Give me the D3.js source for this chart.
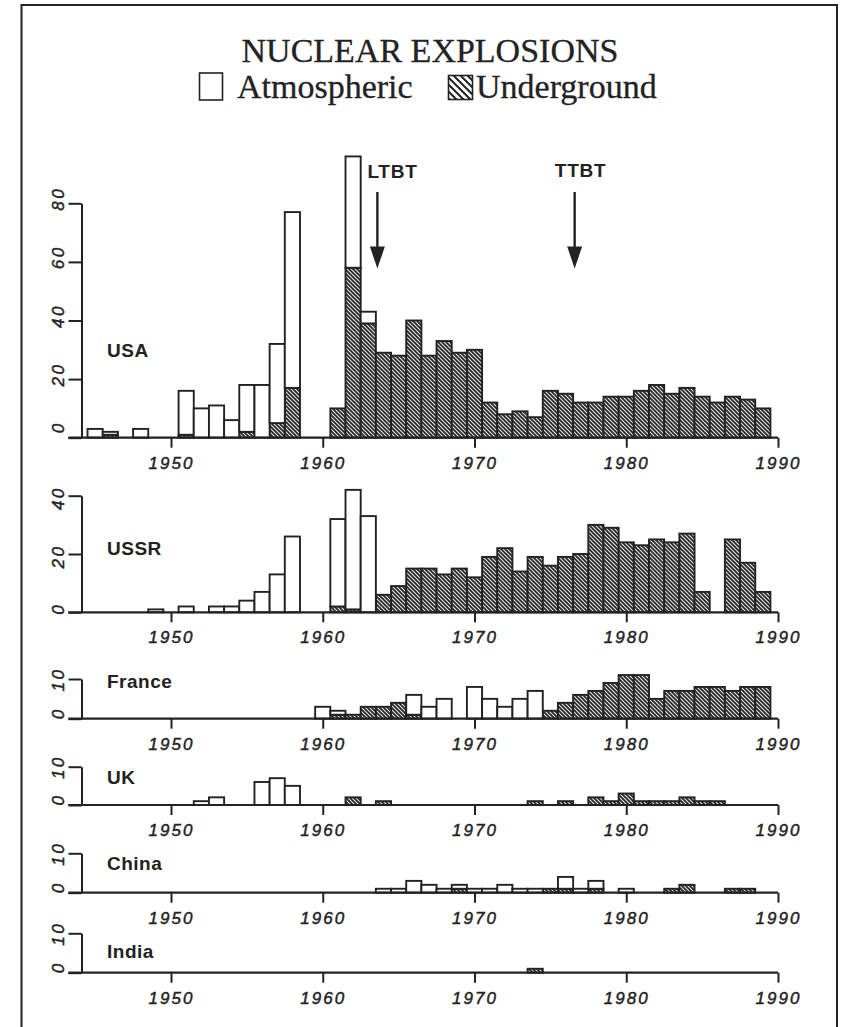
<!DOCTYPE html>
<html><head><meta charset="utf-8">
<script src="https://cdn.jsdelivr.net/npm/d3@7"></script>
<style>body{margin:0;background:#fff}</style>
</head><body>
<svg id="c" width="845" height="1027"></svg>
<script>
// ---- DATA ----
const years = [1945,1946,1947,1948,1949, 1950,1951,1952,1953,1954, 1955,1956,1957,1958,1959,
               1960,1961,1962,1963,1964, 1965,1966,1967,1968,1969, 1970,1971,1972,1973,1974,
               1975,1976,1977,1978,1979, 1980,1981,1982,1983,1984, 1985,1986,1987,1988,1989];
const xTickYears = [1950, 1960, 1970, 1980, 1990];

const usaAtm = [3,1,0,3,0, 0,15,10,11,6, 16,18,27,60,0, 0,0,38,4,0, 0,0,0,0,0, 0,0,0,0,0, 0,0,0,0,0, 0,0,0,0,0, 0,0,0,0,0];
const usaUnd = [0,1,0,0,0, 0,1,0,0,0, 2,0,5,17,0, 0,10,58,39,29, 28,40,28,33,29, 30,12,8,9,7, 16,15,12,12,14, 14,16,18,15,17, 14,12,14,13,10];
const ussrAtm = [0,0,0,0,1, 0,2,0,2,2, 4,7,13,26,0, 0,30,41,33,0, 0,0,0,0,0, 0,0,0,0,0, 0,0,0,0,0, 0,0,0,0,0, 0,0,0,0,0];
const ussrUnd = [0,0,0,0,0, 0,0,0,0,0, 0,0,0,0,0, 0,2,1,0,6, 9,15,15,13,15, 12,19,22,14,19, 16,19,20,30,29, 24,23,25,24,27, 7,0,25,17,7];
const franceAtm = [0,0,0,0,0, 0,0,0,0,0, 0,0,0,0,0, 3,1,0,0,0, 0,5,3,5,0, 8,5,3,5,7, 0,0,0,0,0, 0,0,0,0,0, 0,0,0,0,0];
const franceUnd = [0,0,0,0,0, 0,0,0,0,0, 0,0,0,0,0, 0,1,1,3,3, 4,1,0,0,0, 0,0,0,0,0, 2,4,6,7,9, 11,11,5,7,7, 8,8,7,8,8];
const ukAtm = [0,0,0,0,0, 0,0,1,2,0, 0,6,7,5,0, 0,0,0,0,0, 0,0,0,0,0, 0,0,0,0,0, 0,0,0,0,0, 0,0,0,0,0, 0,0,0,0,0];
const ukUnd = [0,0,0,0,0, 0,0,0,0,0, 0,0,0,0,0, 0,0,2,0,1, 0,0,0,0,0, 0,0,0,0,1, 0,1,0,2,1, 3,1,1,1,2, 1,1,0,0,0];
const chinaAtm = [0,0,0,0,0, 0,0,0,0,0, 0,0,0,0,0, 0,0,0,0,1, 1,3,2,1,1, 1,1,2,1,1, 0,3,1,2,0, 1,0,0,0,0, 0,0,0,0,0];
const chinaUnd = [0,0,0,0,0, 0,0,0,0,0, 0,0,0,0,0, 0,0,0,0,0, 0,0,0,0,1, 0,0,0,0,0, 1,1,0,1,0, 0,0,0,1,2, 0,0,1,1,0];
const indiaAtm = [0,0,0,0,0, 0,0,0,0,0, 0,0,0,0,0, 0,0,0,0,0, 0,0,0,0,0, 0,0,0,0,0, 0,0,0,0,0, 0,0,0,0,0, 0,0,0,0,0];
const indiaUnd = [0,0,0,0,0, 0,0,0,0,0, 0,0,0,0,0, 0,0,0,0,0, 0,0,0,0,0, 0,0,0,0,1, 0,0,0,0,0, 0,0,0,0,0, 0,0,0,0,0];

const usaTicks = [0,20,40,60,80];
const ussrTicks = [0,20,40];
const smallTicks = [0,10];

const treatyNames = ["LTBT", "TTBT"];
const treatyYears = [1963.6, 1976.6];

const titleText = "NUCLEAR EXPLOSIONS";
const legendLabels = ["Atmospheric", "Underground"];

// ---- LAYOUT ----
const ink = "#222";
const svg = d3.select("#c");
const x = d3.scaleLinear().domain([1950, 1990]).range([171, 778]);
const axisX = 81.5, baseLeft = 68.3;

const panels = [
  {name:"USA",    atm:usaAtm,    und:usaUnd,    ticks:usaTicks,   base:437.7, top:203.3, labelY:357, shift:17},
  {name:"USSR",   atm:ussrAtm,   und:ussrUnd,   ticks:ussrTicks,  base:612.3, top:495.7, labelY:555, shift:10},
  {name:"France", atm:franceAtm, und:franceUnd, ticks:smallTicks, base:718.7, top:679,   labelY:688, shift:12},
  {name:"UK",     atm:ukAtm,     und:ukUnd,     ticks:smallTicks, base:805,   top:766.7, labelY:784, shift:12},
  {name:"China",  atm:chinaAtm,  und:chinaUnd,  ticks:smallTicks, base:892.7, top:853.3, labelY:870, shift:12},
  {name:"India",  atm:indiaAtm,  und:indiaUnd,  ticks:smallTicks, base:972.7, top:933.3, labelY:958, shift:12}
];

// patterns
const defs = svg.append("defs");
const p1 = defs.append("pattern").attr("id","hatch").attr("patternUnits","userSpaceOnUse")
  .attr("width",4).attr("height",4);
p1.append("rect").attr("width",4).attr("height",4).attr("fill","#e4e4e4");
p1.append("path").attr("d","M-1,-1L5,5M-1,3L1,5M3,-1L5,1").attr("stroke",ink).attr("stroke-width",1.6);
const p2 = defs.append("pattern").attr("id","hatchL").attr("patternUnits","userSpaceOnUse")
  .attr("width",7).attr("height",7);
p2.append("rect").attr("width",7).attr("height",7).attr("fill","#fff");
p2.append("path").attr("d","M-1,-1L8,8M-1,6L1,8M6,-1L8,1").attr("stroke",ink).attr("stroke-width",2);

svg.append("rect").attr("width",845).attr("height",1027).attr("fill","#fff");

// frame
svg.append("rect").attr("x",21.5).attr("y",5).attr("width",815.5).attr("height",1040)
  .attr("fill","none").attr("stroke",ink).attr("stroke-width",2);

// title + legend
const serif = "Liberation Serif, serif";
svg.append("text").attr("x",430).attr("y",62).attr("text-anchor","middle")
  .attr("font-family",serif).attr("font-size",34).attr("fill",ink)
  .attr("stroke",ink).attr("stroke-width",0.3).text(titleText);
svg.append("rect").attr("x",199.5).attr("y",73).attr("width",23).attr("height",27)
  .attr("fill","#fff").attr("stroke",ink).attr("stroke-width",1.6);
svg.append("text").attr("x",237).attr("y",98).attr("font-family",serif)
  .attr("font-size",34).attr("fill",ink).attr("stroke",ink).attr("stroke-width",0.3).text(legendLabels[0]);
svg.append("rect").attr("x",448.5).attr("y",75.5).attr("width",24).attr("height",24)
  .attr("fill","url(#hatchL)").attr("stroke",ink).attr("stroke-width",1.6);
svg.append("text").attr("x",476).attr("y",98).attr("font-family",serif)
  .attr("font-size",34).attr("fill",ink).attr("stroke",ink).attr("stroke-width",0.3).text(legendLabels[1]);

const sans = "Liberation Sans, Arial, sans-serif";

// panels
panels.forEach(p => {
  const y = d3.scaleLinear().domain([0, p.ticks[p.ticks.length-1]]).range([p.base, p.top]);
  const g = svg.append("g");
  const rows = years.map((yr,i) => ({yr, atm:p.atm[i], und:p.und[i]}));
  // underground (bottom)
  g.selectAll("rect.und").data(rows.filter(d => d.und > 0)).join("rect")
    .attr("x", d => x(d.yr - 0.5)).attr("width", d => x(d.yr + 0.5) - x(d.yr - 0.5))
    .attr("y", d => y(d.und)).attr("height", d => y(0) - y(d.und))
    .attr("fill","url(#hatch)").attr("stroke",ink).attr("stroke-width",1.9);
  // atmospheric (stacked on top)
  g.selectAll("rect.atm").data(rows.filter(d => d.atm > 0)).join("rect")
    .attr("x", d => x(d.yr - 0.5)).attr("width", d => x(d.yr + 0.5) - x(d.yr - 0.5))
    .attr("y", d => y(d.und + d.atm)).attr("height", d => y(d.und) - y(d.und + d.atm))
    .attr("fill","#fff").attr("stroke",ink).attr("stroke-width",1.9);

  // baseline
  g.append("line").attr("x1",baseLeft).attr("x2",x(1990)).attr("y1",p.base).attr("y2",p.base)
    .attr("stroke",ink).attr("stroke-width",2.2);

  // x axis
  const xa = g.append("g").attr("transform",`translate(0,${p.base})`)
    .call(d3.axisBottom(x).tickValues(xTickYears).tickFormat(d3.format("d")).tickSize(10).tickSizeOuter(0));
  xa.select(".domain").remove();
  xa.selectAll("line").attr("stroke",ink).attr("stroke-width",2);
  xa.selectAll("text").attr("y",31).attr("dy",0)
    .attr("font-family",sans).attr("font-style","italic")
    .attr("font-size",17).attr("letter-spacing","2px").attr("fill",ink)
    .attr("stroke",ink).attr("stroke-width",0.45);

  // y axis
  const ya = g.append("g").attr("transform",`translate(${axisX},0)`)
    .call(d3.axisLeft(y).tickValues(p.ticks).tickFormat(d3.format("d")).tickSize(13).tickSizeOuter(0));
  ya.select(".domain").attr("stroke",ink).attr("stroke-width",2);
  ya.selectAll("line").attr("stroke",ink).attr("stroke-width",2);
  ya.selectAll(".tick text")
    .attr("x",null).attr("dy",null)
    .attr("transform",`translate(-18,${-p.shift}) rotate(-90)`)
    .attr("text-anchor","end")
    .attr("font-family",sans).attr("font-style","italic")
    .attr("font-size",17).attr("letter-spacing","2.5px").attr("fill",ink)
    .attr("stroke",ink).attr("stroke-width",0.45);

  // country label
  g.append("text").attr("x",107).attr("y",p.labelY)
    .attr("font-family",sans).attr("font-weight","bold")
    .attr("font-size",19).attr("letter-spacing","0.5px").attr("fill",ink).text(p.name);
});

// treaty annotations
const ann = [
  {name:treatyNames[0], yr:treatyYears[0], dx:-10, anchor:"start", ty:178},
  {name:treatyNames[1], yr:treatyYears[1], dx:6, anchor:"middle", ty:177}
];
ann.forEach(a => {
  const ax = x(a.yr);
  svg.append("text").attr("x", ax + a.dx).attr("y", a.ty).attr("text-anchor", a.anchor)
    .attr("font-family",sans).attr("font-weight","bold")
    .attr("font-size",19).attr("letter-spacing","0.8px").attr("fill",ink).text(a.name);
  svg.append("line").attr("x1",ax).attr("x2",ax).attr("y1",192).attr("y2",250)
    .attr("stroke",ink).attr("stroke-width",2.4);
  svg.append("path").attr("d",`M${ax-7.5},246.5L${ax+7.5},246.5L${ax},268.5Z`).attr("fill",ink);
});
</script>
</body></html>
